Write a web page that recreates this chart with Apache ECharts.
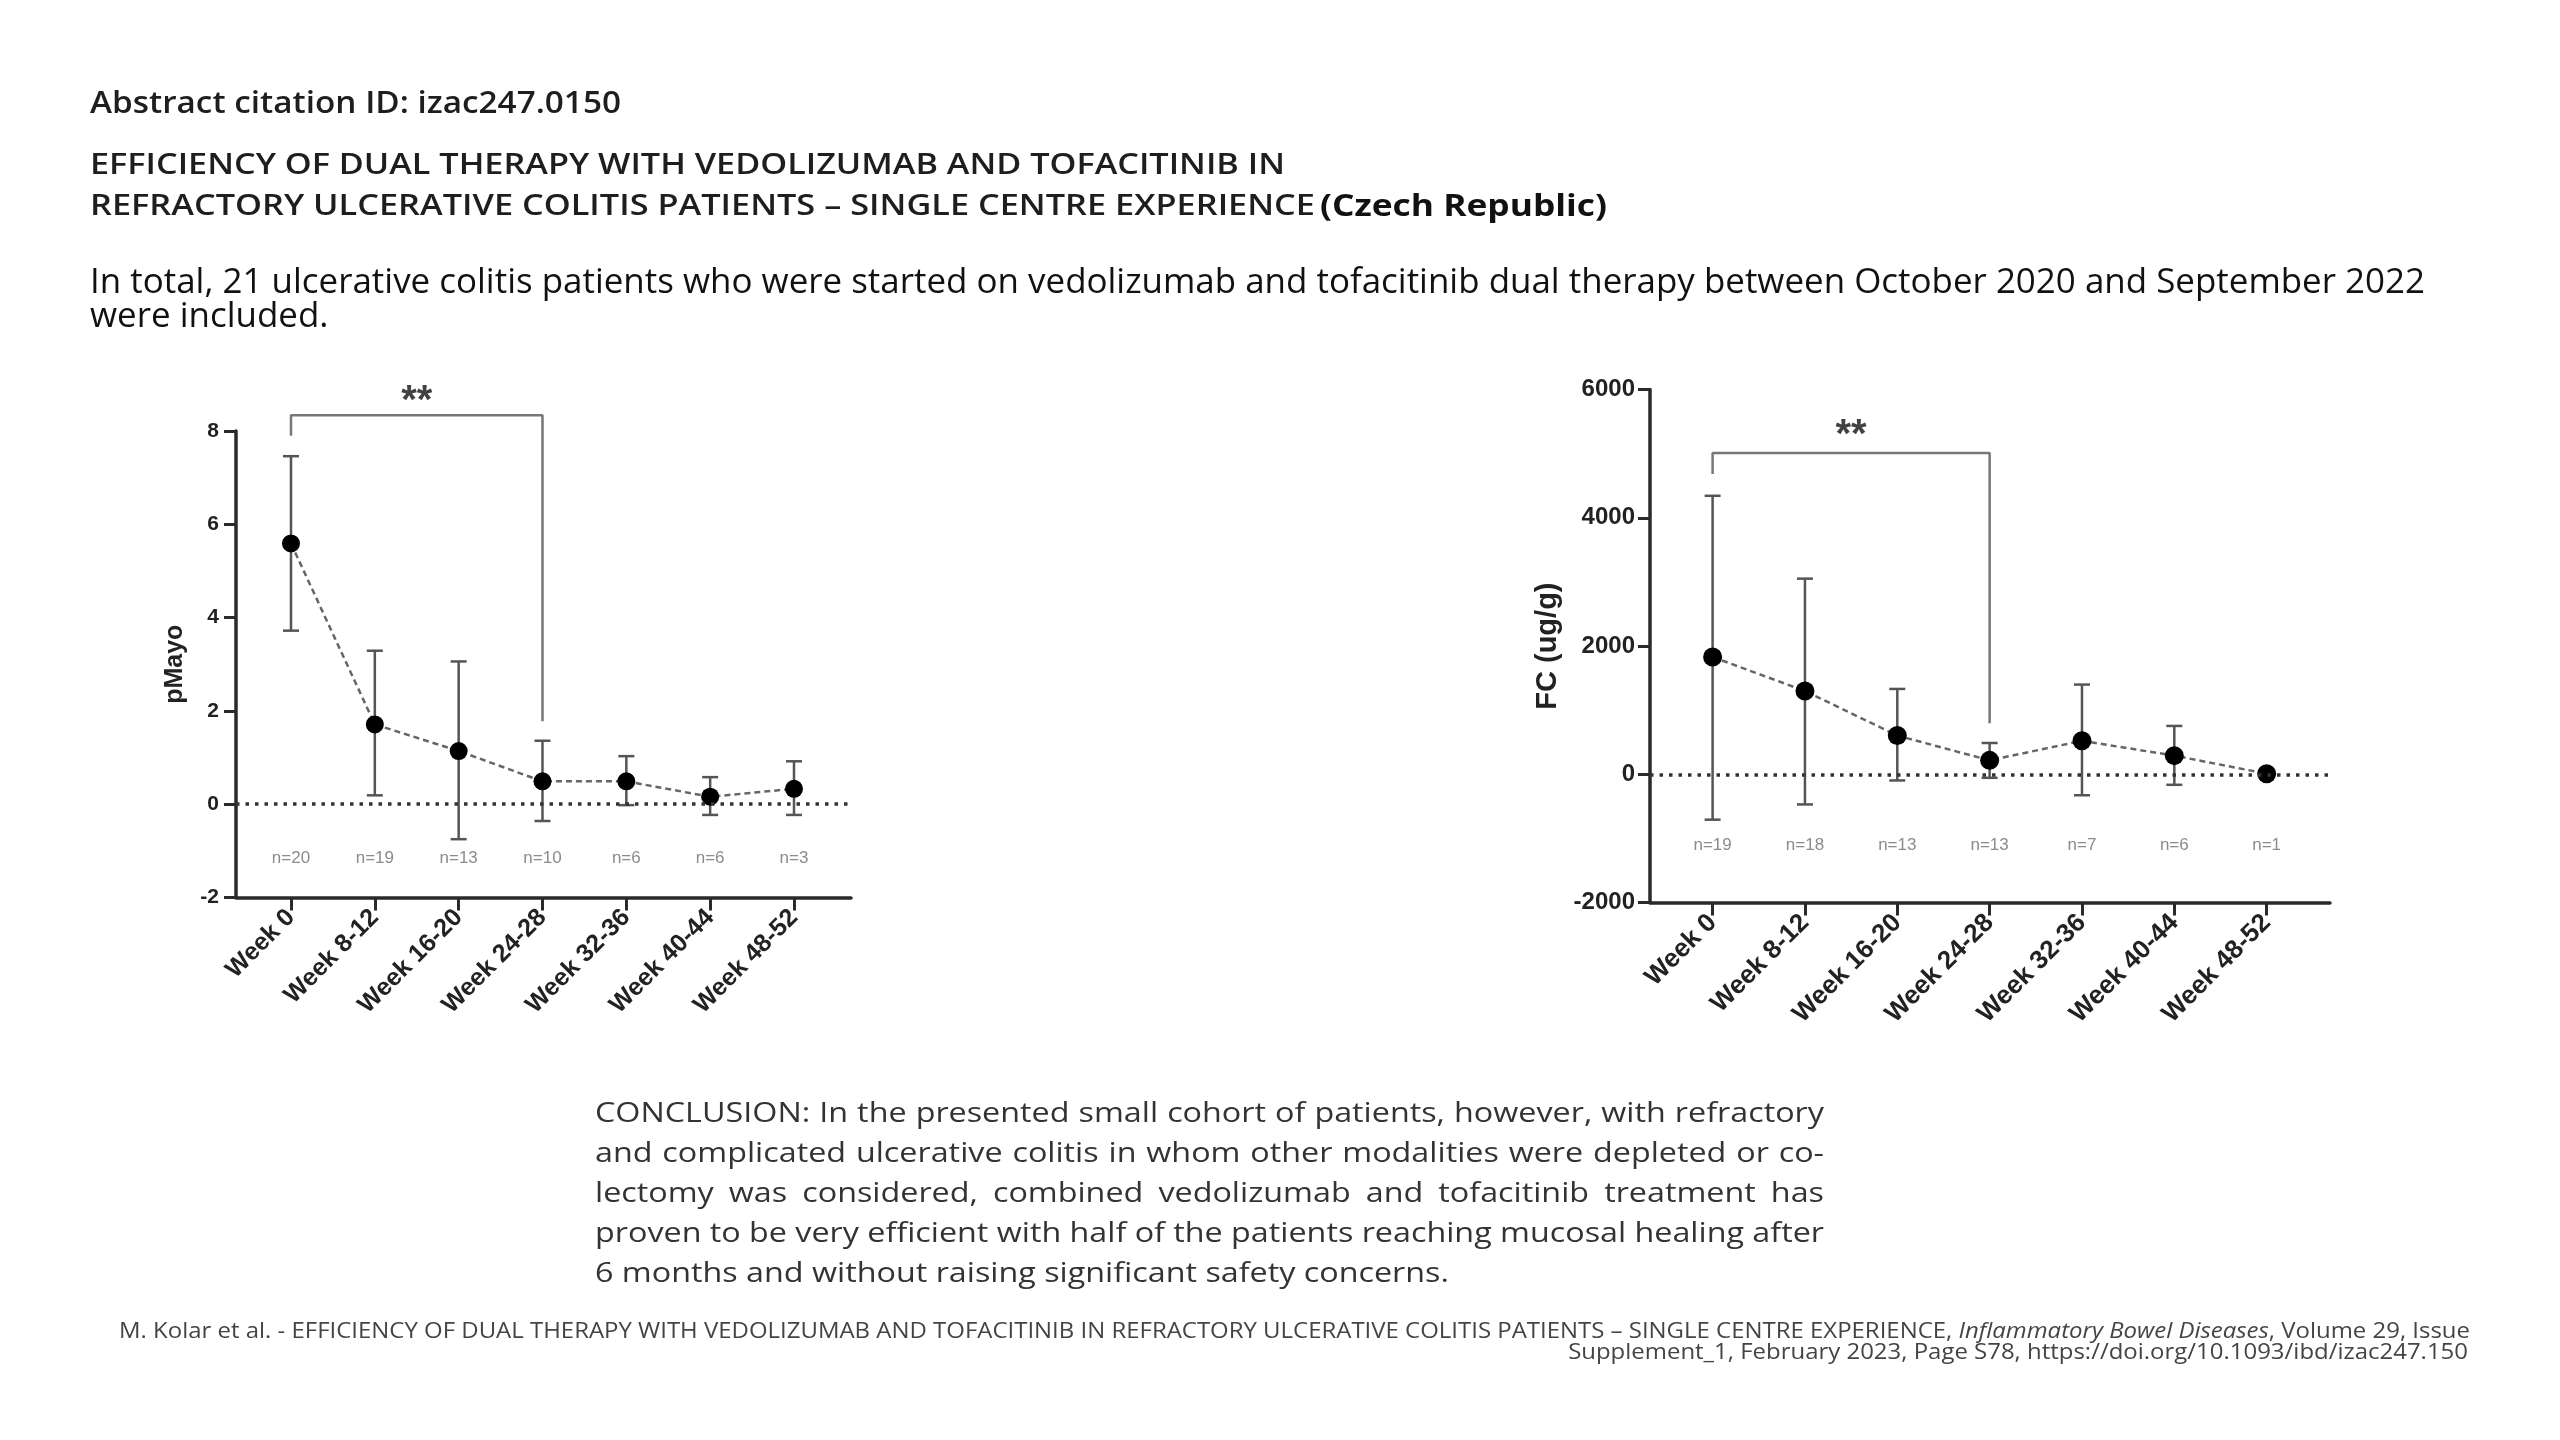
<!DOCTYPE html>
<html>
<head>
<meta charset="utf-8">
<script src="https://cdn.jsdelivr.net/npm/echarts@6/dist/echarts.min.js"></script>
<style>
html,body{margin:0;padding:0;background:#fff;}
#chart{width:2560px;height:1440px;}
</style>
</head>
<body>
<div id="chart"></div>
<script>
// ---------------- DATA ----------------
const categories = ['Week 0','Week 8-12','Week 16-20','Week 24-28','Week 32-36','Week 40-44','Week 48-52'];

const pMayoMean  = [5.59, 1.71, 1.14, 0.49, 0.49, 0.16, 0.33];
const pMayoUpper = [7.46, 3.29, 3.06, 1.36, 1.03, 0.58, 0.92];
const pMayoLower = [3.72, 0.19, -0.75, -0.36, -0.02, -0.23, -0.23];
const pMayoN     = [20, 19, 13, 10, 6, 6, 3];
const pMayoTicks = [-2, 0, 2, 4, 6, 8];
const pMayoBracket = [7.9, 8.34, 1.78];   // left foot, bar level, right foot
const pMayoStar  = [1.5, 8.63];
const pMayoNLevel = -1.17;

const fcMean  = [1830, 1300, 605, 218, 523, 292, 10];
const fcUpper = [4344, 3052, 1332, 489, 1400, 755, null];
const fcLower = [-707, -469, -95, -54, -326, -163, null];
const fcN     = [19, 18, 13, 13, 7, 6, 1];
const fcTicks = [-2000, 0, 2000, 4000, 6000];
const fcBracket = [4684, 5010, 795];
const fcStar  = [1.5, 5278];
const fcNLevel = -1100;

const bracketFrom = 0, bracketTo = 3;

// ---------------- TEXT ----------------
const headerId = 'Abstract citation ID: izac247.0150';
const title1 = 'EFFICIENCY OF DUAL THERAPY WITH VEDOLIZUMAB AND TOFACITINIB IN';
const title2 = 'REFRACTORY ULCERATIVE COLITIS PATIENTS \u2013 SINGLE CENTRE EXPERIENCE';
const country = '(Czech Republic)';
const intro1 = 'In total, 21 ulcerative colitis patients who were started on vedolizumab and tofacitinib dual therapy between October 2020 and September 2022';
const intro2 = 'were included.';
const conclusion = [
  'CONCLUSION: In the presented small cohort of patients, however, with refractory',
  'and complicated ulcerative colitis in whom other modalities were depleted or co-',
  'lectomy was considered, combined vedolizumab and tofacitinib treatment has',
  'proven to be very efficient with half of the patients reaching mucosal healing after',
  '6 months and without raising significant safety concerns.'
];
const footer1 = ['M. Kolar et al. - EFFICIENCY OF DUAL THERAPY WITH VEDOLIZUMAB AND TOFACITINIB IN REFRACTORY ULCERATIVE COLITIS PATIENTS \u2013 SINGLE CENTRE EXPERIENCE, ', 'Inflammatory Bowel Diseases', ', Volume 29, Issue'];
const footer2 = 'Supplement_1, February 2023, Page S78, https://doi.org/10.1093/ibd/izac247.150';

// ---------------- HELPERS ----------------
const PAGE_FONT = 'Open Sans';
const AXIS_FONT = 'Liberation Sans';
const mctx = document.createElement('canvas').getContext('2d');
function measure(text, size, weight, style) {
  mctx.font = (style || 'normal') + ' ' + (weight || 'normal') + ' ' + size + 'px "' + PAGE_FONT + '"';
  return mctx.measureText(text).width;
}
function textEl(text, x, y, size, weight, sx, fill, fstyle) {
  return {
    type: 'text', x: x, y: y, scaleX: sx, scaleY: 1, silent: true,
    style: {
      text: text, fontSize: size, fontWeight: weight, fontFamily: PAGE_FONT,
      fontStyle: fstyle || 'normal', fill: fill,
      align: 'left', verticalAlign: 'middle', textAlign: 'left', textVerticalAlign: 'middle'
    }
  };
}
const graphics = [];
function fitLine(text, x, y, size, weight, targetW, fill) {
  const sx = targetW / measure(text, size, weight);
  graphics.push(textEl(text, x, y, size, weight, sx, fill));
  return sx;
}

// header
fitLine(headerId, 90, 104.5, 31, 600, 531, '#1e1e1e');
fitLine(title1, 90, 166.5, 28, 600, 1195, '#1e1e1e');
fitLine(title2, 90, 207.5, 28, 600, 1225, '#1e1e1e');
fitLine(country, 1320, 207, 31, 700, 287, '#111');
const introSx = fitLine(intro1, 90, 283, 34, 400, 2335, '#111');
graphics.push(textEl(intro2, 90, 317, 34, 400, introSx, '#111'));

// conclusion (justified)
(function () {
  const size = 26.5, left = 595, right = 1824;
  const lineY = [1114, 1154, 1194, 1234, 1274];
  const last = conclusion[conclusion.length - 1];
  const sx = (1449 - left) / measure(last, size, 400);
  conclusion.forEach(function (line, li) {
    if (li === conclusion.length - 1) {
      graphics.push(textEl(line, left, lineY[li], size, 400, sx, '#333'));
      return;
    }
    const words = line.split(' ');
    const widths = words.map(function (w) { return measure(w, size, 400) * sx; });
    const total = widths.reduce(function (a, b) { return a + b; }, 0);
    const gap = (right - left - total) / (words.length - 1);
    let x = left;
    words.forEach(function (w, i) {
      graphics.push(textEl(w, x, lineY[li], size, 400, sx, '#333'));
      x += widths[i] + gap;
    });
  });
})();

// footer (right aligned)
(function () {
  const size = 21, right = 2470, left = 119;
  const styles = ['normal', 'italic', 'normal'];
  const ws = footer1.map(function (t, i) { return measure(t, size, 400, styles[i]); });
  const tot = ws.reduce(function (a, b) { return a + b; }, 0);
  const sx = (right - left) / tot;
  let x = left;
  footer1.forEach(function (t, i) {
    graphics.push(textEl(t, x, 1332, size, 400, sx, '#444', styles[i]));
    x += ws[i] * sx;
  });
  const w2 = measure(footer2, size, 400) * sx;
  graphics.push(textEl(footer2, 2468 - w2, 1353, size, 400, sx, '#444'));
})();

// ---------------- CHART ----------------
const idx = categories.map(function (c, i) { return i; });

function errData(lower, upper) {
  const out = [];
  idx.forEach(function (i) { if (upper[i] !== null && lower[i] !== null) out.push([i, lower[i], upper[i]]); });
  return out;
}
function errRender(params, api) {
  const x = api.value(0);
  const top = api.coord([x, api.value(2)]);
  const bot = api.coord([x, api.value(1)]);
  const hw = 8;
  const st = { stroke: '#555', lineWidth: 2.5 };
  return {
    type: 'group',
    children: [
      { type: 'line', shape: { x1: top[0], y1: top[1], x2: bot[0], y2: bot[1] }, style: st },
      { type: 'line', shape: { x1: top[0] - hw, y1: top[1], x2: top[0] + hw, y2: top[1] }, style: st },
      { type: 'line', shape: { x1: bot[0] - hw, y1: bot[1], x2: bot[0] + hw, y2: bot[1] }, style: st }
    ]
  };
}

function xAxisCfg(gi, min, max, fs) {
  return {
    type: 'value', gridIndex: gi, min: min, max: max,
    axisLine: { show: true, onZero: false, lineStyle: { color: '#2a2a2a', width: 3.5 } },
    axisTick: { show: true, customValues: idx, length: 13, lineStyle: { color: '#2a2a2a', width: 3 } },
    axisLabel: {
      show: true, customValues: idx, rotate: 45, margin: 16,
      formatter: function (v) { return categories[Math.round(v)]; },
      fontFamily: AXIS_FONT, fontWeight: 'bold', fontSize: fs, color: '#222'
    },
    splitLine: { show: false }
  };
}
function yAxisCfg(gi, ticks, name, nameGap, nameSize, labelSize, margin) {
  return {
    type: 'value', gridIndex: gi,
    min: ticks[0], max: ticks[ticks.length - 1], interval: ticks[1] - ticks[0],
    axisLine: { show: true, onZero: false, lineStyle: { color: '#2a2a2a', width: 3.5 } },
    axisTick: { show: true, length: 12, lineStyle: { color: '#2a2a2a', width: 3 } },
    axisLabel: {
      fontFamily: AXIS_FONT, fontWeight: 'bold', fontSize: labelSize, color: '#222', margin: margin,
      formatter: function (v) { return String(v); }
    },
    splitLine: { show: false },
    name: name, nameLocation: 'middle', nameRotate: 90, nameGap: nameGap,
    nameTextStyle: { fontFamily: AXIS_FONT, fontWeight: 'bold', fontSize: nameSize, color: '#222' }
  };
}

function panelSeries(gi, mean, lower, upper, n, nLevel, bracket, star, msize) {
  return [
    {
      type: 'custom', xAxisIndex: gi, yAxisIndex: gi, renderItem: errRender,
      data: errData(lower, upper), encode: { x: 0, y: [1, 2] }, z: 2, silent: true
    },
    {
      type: 'line', xAxisIndex: gi, yAxisIndex: gi,
      data: idx.map(function (i) { return [i, mean[i]]; }),
      symbol: 'circle', symbolSize: msize,
      itemStyle: { color: '#000' },
      lineStyle: { color: '#666', width: 2.5, type: [6, 4] },
      z: 4, silent: true,
      markLine: {
        silent: true, symbol: 'none', label: { show: false },
        lineStyle: { color: '#333', width: 3.5, type: [3.5, 6] },
        data: [{ yAxis: 0 }]
      }
    },
    {
      type: 'line', xAxisIndex: gi, yAxisIndex: gi, clip: false, silent: true,
      data: [[bracketFrom, bracket[0]], [bracketFrom, bracket[1]], [bracketTo, bracket[1]], [bracketTo, bracket[2]]],
      symbol: 'none', lineStyle: { color: '#777', width: 2.5 }, z: 3
    },
    {
      type: 'scatter', xAxisIndex: gi, yAxisIndex: gi, clip: false, silent: true,
      data: [star], symbolSize: 0,
      label: { show: true, position: 'inside', formatter: '**', fontFamily: AXIS_FONT, fontWeight: 'bold', fontSize: 40, color: '#111' }
    },
    {
      type: 'scatter', xAxisIndex: gi, yAxisIndex: gi, silent: true,
      data: idx.map(function (i) { return [i, nLevel, n[i]]; }), symbolSize: 0,
      label: {
        show: true, position: 'inside',
        formatter: function (p) { return 'n=' + p.value[2]; },
        fontFamily: AXIS_FONT, fontSize: 17, color: '#6e6e6e'
      }
    }
  ];
}

const option = {
  backgroundColor: '#fff',
  animation: false,
  grid: [
    { left: 236, top: 431, width: 615, height: 466.5 },
    { left: 1650, top: 389.6, width: 680, height: 513 }
  ],
  xAxis: [
    xAxisCfg(0, -0.656, 6.68, 25),
    xAxisCfg(1, -0.678, 6.686, 26)
  ],
  yAxis: [
    yAxisCfg(0, pMayoTicks, 'pMayo', 48, 25, 21, 17),
    yAxisCfg(1, fcTicks, 'FC (ug/g)', 88, 29, 24, 15)
  ],
  series: [].concat(
    panelSeries(0, pMayoMean, pMayoLower, pMayoUpper, pMayoN, pMayoNLevel, pMayoBracket, pMayoStar, 18),
    panelSeries(1, fcMean, fcLower, fcUpper, fcN, fcNLevel, fcBracket, fcStar, 19)
  ),
  graphic: graphics
};

const chart = echarts.init(document.getElementById('chart'), null, { renderer: 'canvas' });
chart.setOption(option);
</script>
</body>
</html>
